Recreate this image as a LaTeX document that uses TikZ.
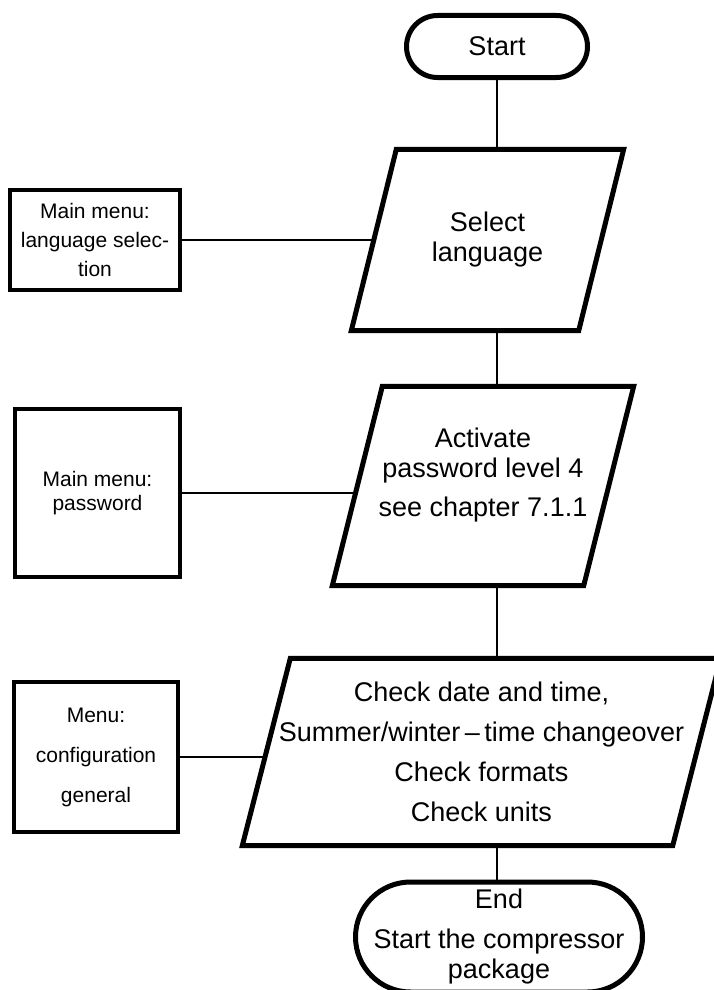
\documentclass[tikz,border=0pt]{standalone}
\usepackage{fontspec}
\setmainfont{Liberation Sans}
\usetikzlibrary{positioning}

\begin{document}
\begin{tikzpicture}[x=1pt,y=-1pt,
	term/.style={draw,line width=5pt,rounded corners=#1,align=center,font=\fontsize{27}{30}\selectfont},
	io/.style={inner sep=0pt,align=center,font=\fontsize{27}{30}\selectfont},
	frame/.style={line width=5pt,line join=miter},
	menu/.style={draw,line width=4.5pt,align=center,font=\fontsize{21}{29}\selectfont},
	wire/.style={line width=2pt}]
	\useasboundingbox (0,0) rectangle (713,990);
	% main column
	\node[term=31pt,minimum width=181pt,minimum height=62pt] (start) at (497,46.5) {Start};
	\node[io,minimum width=227pt,minimum height=181pt] (sel) at (487.5,240) {Select\\language};
	\node[io,minimum width=251pt,minimum height=199pt] (pw) at (483,486) {Activate\\password level 4\\[9pt]see chapter 7.1.1\\[-2pt]\mbox{}};
	\node[io,minimum width=430pt,minimum height=187pt,font=\fontsize{27}{40}\selectfont] (chk) at (481.5,752)
		{Check date and time,\\Summer/winter\,--\,time changeover\\Check formats\\Check units};
	\node[term=55pt,minimum width=287pt,minimum height=110pt] (stop) at (499,937) {End\\[10pt]Start the compressor\\package};
	% slanted outlines of the input boxes
	\foreach \n/\d in {sel/22.5,pw/25,chk/24}
		\draw[frame] ([xshift=\d pt]\n.north west) -- ([xshift=\d pt]\n.north east)
			-- ([xshift=-\d pt]\n.south east) -- ([xshift=-\d pt]\n.south west) -- cycle;
	% menus on the left
	\node[menu,minimum width=170pt,minimum height=100pt] (lang) at (95,240) {Main menu:\\language selec-\\tion};
	\node[menu,minimum width=165pt,minimum height=168pt,font=\fontsize{21}{24}\selectfont] (pwm) at (97.5,493) {Main menu:\\password};
	\node[menu,minimum width=164pt,minimum height=150pt,font=\fontsize{21}{40}\selectfont] (cfg) at (96,757) {Menu:\\configuration\\general};
	% connectors
	\draw[wire] (start.south) -- (start.south |- sel.north);
	\draw[wire] (sel.south -| start.south) -- (pw.north -| start.south);
	\draw[wire] (pw.south -| start.south) -- (chk.north -| start.south);
	\draw[wire] (chk.south -| start.south) -- (stop.north -| start.south);
	\draw[wire] (lang.east) -- (sel.west);
	\draw[wire] (pwm.east) -- (pwm.east -| pw.west);
	\draw[wire] (cfg.east) -- (cfg.east -| chk.west);
\end{tikzpicture}
\end{document}
